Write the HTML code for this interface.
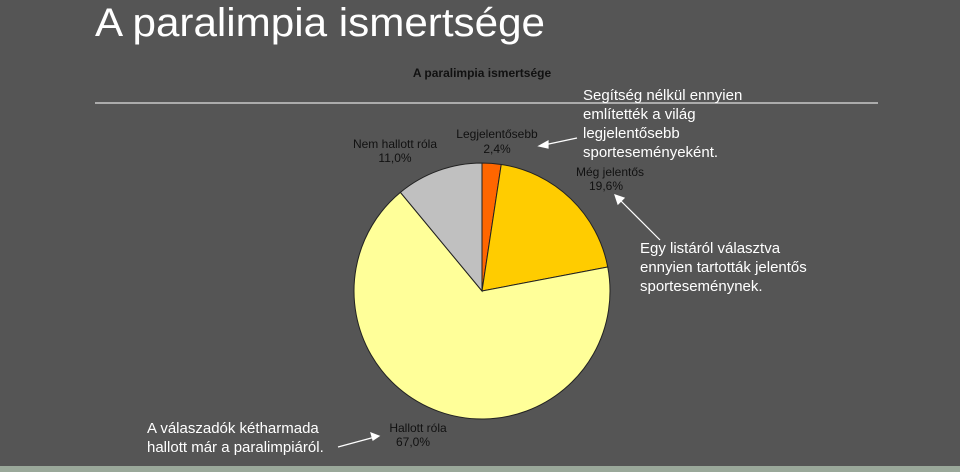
<!DOCTYPE html>
<html><head><meta charset="utf-8"><style>
html,body{margin:0;padding:0;background:#555555;}
svg{display:block;font-family:"Liberation Sans",sans-serif;}
</style></head><body>
<svg width="960" height="472" viewBox="0 0 960 472">
<rect x="0" y="0" width="960" height="472" fill="#555555"/>
<rect x="0" y="466" width="960" height="6" fill="#9aa89a"/>
<text x="95" y="36" font-size="40" fill="#ffffff" font-weight="300" textLength="450" lengthAdjust="spacingAndGlyphs">A paralimpia ismertsége</text>
<line x1="95" y1="103" x2="878" y2="103" stroke="#c8c8c8" stroke-width="1.5"/>
<text x="482" y="77" font-size="12" font-weight="bold" fill="#111" text-anchor="middle">A paralimpia ismertsége</text>
<g id="pie"></g>
<g font-size="12" fill="#111" text-anchor="middle">
<text x="395" y="148">Nem hallott róla</text>
<text x="395" y="162">11,0%</text>
<text x="497" y="138">Legjelentősebb</text>
<text x="497" y="153">2,4%</text>
<text x="610" y="176">Még jelentős</text>
<text x="606" y="190">19,6%</text>
<text x="418" y="432">Hallott róla</text>
<text x="413" y="446">67,0%</text>
</g>
<g font-size="15" fill="#ffffff">
<text x="583" y="100">Segítség nélkül ennyien</text>
<text x="583" y="119">említették a világ</text>
<text x="583" y="138">legjelentősebb</text>
<text x="583" y="157">sporteseményeként.</text>
<text x="640" y="253">Egy listáról választva</text>
<text x="640" y="272">ennyien tartották jelentős</text>
<text x="640" y="291">sporteseménynek.</text>
<text x="147" y="433">A válaszadók kétharmada</text>
<text x="147" y="452">hallott már a paralimpiáról.</text>
</g>
<g stroke="#ffffff" stroke-width="1.2" fill="#ffffff">
<line x1="577" y1="138" x2="544" y2="145"/>
<polygon points="539,146 548,141 548,148"/>
<line x1="660" y1="240" x2="620" y2="200"/>
<polygon points="615,195 624,198 618,204"/>
<line x1="338" y1="447" x2="375" y2="437"/>
<polygon points="379,436 371,433 373,440"/>
</g>
</svg>
<script>
const categories = ["Legjelentősebb","Még jelentős","Hallott róla","Nem hallott róla"];
const values = [2.4, 19.6, 67.0, 11.0];
const colors = ["#ff6600","#ffcc00","#ffff99","#c0c0c0"];
const cx = 482, cy = 291, r = 128;
const g = document.getElementById('pie');
const total = values.reduce((a,b)=>a+b,0);
let a0 = 0;
values.forEach((v,i)=>{
  const a1 = a0 + v/total*2*Math.PI;
  const x0 = cx + r*Math.sin(a0), y0 = cy - r*Math.cos(a0);
  const x1 = cx + r*Math.sin(a1), y1 = cy - r*Math.cos(a1);
  const large = (a1-a0) > Math.PI ? 1 : 0;
  const p = document.createElementNS('http://www.w3.org/2000/svg','path');
  p.setAttribute('d', `M${cx},${cy} L${x0},${y0} A${r},${r} 0 ${large} 1 ${x1},${y1} Z`);
  p.setAttribute('fill', colors[i]);
  p.setAttribute('stroke', '#222');
  p.setAttribute('stroke-width', '1');
  
  
  g.appendChild(p);
  a0 = a1;
});
</script>
</body></html>
